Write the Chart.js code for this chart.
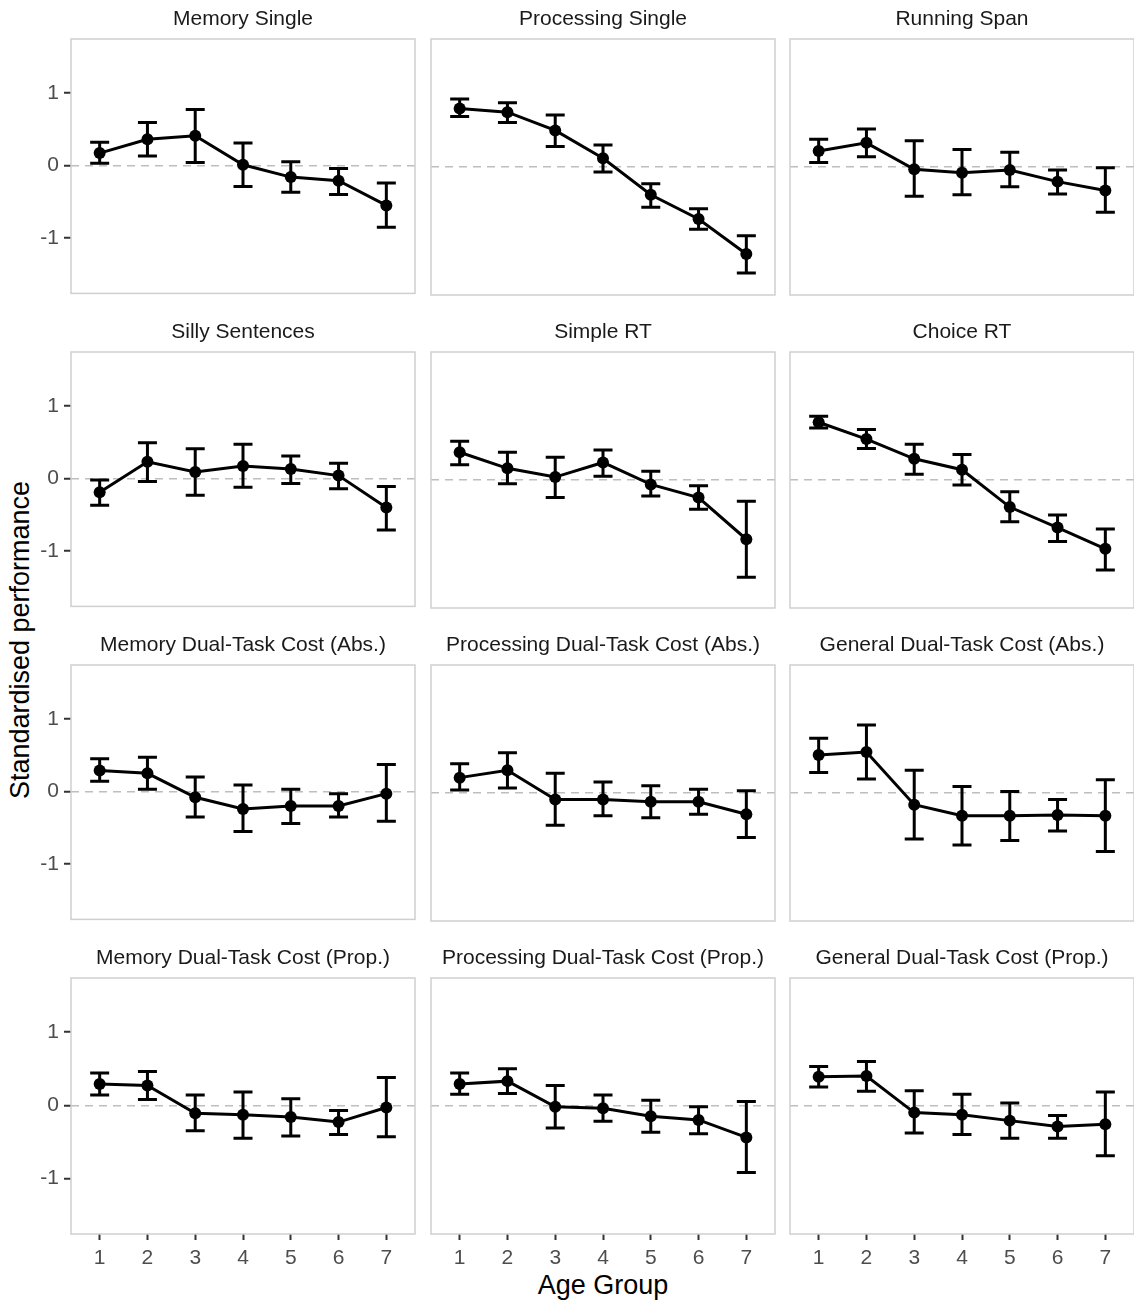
<!DOCTYPE html>
<html><head><meta charset="utf-8">
<script src="https://cdn.jsdelivr.net/npm/chart.js@4/dist/chart.umd.min.js"></script>
<style>
html,body{margin:0;padding:0;background:#fff;overflow:hidden;width:1134px;height:1310px;position:relative;}
canvas.c{position:absolute;}
#ylab{position:absolute;left:20px;top:640px;transform:translate(-50%,-50%) rotate(-90deg);font:27px "Liberation Sans",Arial,sans-serif;white-space:nowrap;color:#000;}
#xlab{position:absolute;left:603px;top:1285px;transform:translate(-50%,-50%);font:27px "Liberation Sans",Arial,sans-serif;white-space:nowrap;color:#000;}
</style></head><body>
<div id="ylab">Standardised performance</div>
<div id="xlab">Age Group</div>
<script>
// ---------- data ----------
const ageGroups = [1, 2, 3, 4, 5, 6, 7];
const yTickValues = [-1, 0, 1];
const panelTitles = [
  "Memory Single", "Processing Single", "Running Span",
  "Silly Sentences", "Simple RT", "Choice RT",
  "Memory Dual-Task Cost (Abs.)", "Processing Dual-Task Cost (Abs.)", "General Dual-Task Cost (Abs.)",
  "Memory Dual-Task Cost (Prop.)", "Processing Dual-Task Cost (Prop.)", "General Dual-Task Cost (Prop.)"
];

const memorySingle      = [0.17, 0.36, 0.41, 0.01, -0.16, -0.21, -0.55];
const memorySingleLower = [0.03, 0.13, 0.04, -0.29, -0.37, -0.40, -0.85];
const memorySingleUpper = [0.32, 0.59, 0.77, 0.31, 0.05, -0.04, -0.24];

const processingSingle      = [0.79, 0.74, 0.49, 0.11, -0.39, -0.72, -1.20];
const processingSingleLower = [0.68, 0.60, 0.27, -0.08, -0.56, -0.86, -1.46];
const processingSingleUpper = [0.92, 0.87, 0.70, 0.29, -0.24, -0.58, -0.95];

const runningSpan      = [0.21, 0.32, -0.04, -0.09, -0.05, -0.21, -0.33];
const runningSpanLower = [0.05, 0.13, -0.41, -0.39, -0.28, -0.38, -0.63];
const runningSpanUpper = [0.37, 0.51, 0.35, 0.23, 0.19, -0.05, -0.02];

const sillySentences      = [-0.19, 0.23, 0.09, 0.17, 0.13, 0.04, -0.40];
const sillySentencesLower = [-0.37, -0.04, -0.23, -0.12, -0.07, -0.14, -0.71];
const sillySentencesUpper = [-0.02, 0.49, 0.41, 0.47, 0.31, 0.21, -0.11];

const simpleRT      = [0.37, 0.15, 0.03, 0.23, -0.07, -0.25, -0.82];
const simpleRTLower = [0.20, -0.06, -0.25, 0.04, -0.23, -0.41, -1.34];
const simpleRTUpper = [0.52, 0.37, 0.30, 0.40, 0.11, -0.09, -0.30];

const choiceRT      = [0.78, 0.55, 0.28, 0.13, -0.38, -0.66, -0.95];
const choiceRTLower = [0.70, 0.42, 0.07, -0.08, -0.58, -0.85, -1.24];
const choiceRTUpper = [0.86, 0.68, 0.48, 0.34, -0.17, -0.49, -0.68];

const memoryDtcAbs      = [0.29, 0.25, -0.08, -0.24, -0.20, -0.20, -0.03];
const memoryDtcAbsLower = [0.14, 0.03, -0.35, -0.55, -0.44, -0.35, -0.41];
const memoryDtcAbsUpper = [0.45, 0.47, 0.20, 0.09, 0.03, -0.03, 0.37];

const processingDtcAbs      = [0.20, 0.30, -0.10, -0.10, -0.13, -0.13, -0.30];
const processingDtcAbsLower = [0.03, 0.06, -0.45, -0.32, -0.35, -0.30, -0.62];
const processingDtcAbsUpper = [0.39, 0.54, 0.26, 0.14, 0.09, 0.04, 0.02];

const generalDtcAbs      = [0.51, 0.55, -0.17, -0.32, -0.32, -0.31, -0.32];
const generalDtcAbsLower = [0.27, 0.18, -0.64, -0.72, -0.66, -0.53, -0.81];
const generalDtcAbsUpper = [0.74, 0.92, 0.30, 0.08, 0.01, -0.10, 0.17];

const memoryDtcProp      = [0.29, 0.27, -0.11, -0.13, -0.16, -0.23, -0.03];
const memoryDtcPropLower = [0.14, 0.08, -0.35, -0.45, -0.42, -0.40, -0.43];
const memoryDtcPropUpper = [0.44, 0.46, 0.14, 0.18, 0.09, -0.07, 0.38];

const processingDtcProp      = [0.29, 0.33, -0.02, -0.04, -0.15, -0.20, -0.44];
const processingDtcPropLower = [0.15, 0.16, -0.31, -0.22, -0.37, -0.39, -0.92];
const processingDtcPropUpper = [0.44, 0.50, 0.27, 0.14, 0.07, -0.02, 0.05];

const generalDtcProp      = [0.39, 0.40, -0.10, -0.13, -0.21, -0.29, -0.26];
const generalDtcPropLower = [0.25, 0.19, -0.38, -0.40, -0.45, -0.45, -0.69];
const generalDtcPropUpper = [0.53, 0.60, 0.20, 0.15, 0.03, -0.14, 0.18];

const panelMeans = [memorySingle, processingSingle, runningSpan, sillySentences, simpleRT, choiceRT,
  memoryDtcAbs, processingDtcAbs, generalDtcAbs, memoryDtcProp, processingDtcProp, generalDtcProp];
const panelLowers = [memorySingleLower, processingSingleLower, runningSpanLower, sillySentencesLower, simpleRTLower, choiceRTLower,
  memoryDtcAbsLower, processingDtcAbsLower, generalDtcAbsLower, memoryDtcPropLower, processingDtcPropLower, generalDtcPropLower];
const panelUppers = [memorySingleUpper, processingSingleUpper, runningSpanUpper, sillySentencesUpper, simpleRTUpper, choiceRTUpper,
  memoryDtcAbsUpper, processingDtcAbsUpper, generalDtcAbsUpper, memoryDtcPropUpper, processingDtcPropUpper, generalDtcPropUpper];

// ---------- layout ----------
const PANEL_LEFT = [71, 431, 790];
const PANEL_TOP = [39, 352, 665, 978];
const PW = 344, PH = 256;
const TITLE_H = 32;
const FONT = '"Liberation Sans", Arial, sans-serif';

const errorBarPlugin = {
  id: 'errorBars',
  afterDatasetsDraw(chart, args, opts) {
    const ctx = chart.ctx, x = chart.scales.x, y = chart.scales.y;
    ctx.save();
    ctx.strokeStyle = '#000';
    ctx.lineWidth = 3;
    ageGroups.forEach((g, i) => {
      const px = x.getPixelForValue(g);
      const lo = y.getPixelForValue(opts.lower[i]);
      const hi = y.getPixelForValue(opts.upper[i]);
      ctx.beginPath();
      ctx.moveTo(px, lo); ctx.lineTo(px, hi);
      ctx.moveTo(px - 9.5, lo); ctx.lineTo(px + 9.5, lo);
      ctx.moveTo(px - 9.5, hi); ctx.lineTo(px + 9.5, hi);
      ctx.stroke();
    });
    ctx.restore();
  }
};
const panelBorderPlugin = {
  id: 'panelBorder',
  afterDraw(chart) {
    const a = chart.chartArea, ctx = chart.ctx;
    ctx.save();
    ctx.strokeStyle = '#CFCFCF';
    ctx.lineWidth = 1.5;
    ctx.strokeRect(a.left, a.top, a.right - a.left, a.bottom - a.top);
    ctx.restore();
  }
};

panelTitles.forEach((title, k) => {
  const r = Math.floor(k / 3), c = k % 3;
  const leftPad = c === 0 ? 62 : 2;
  const bottomH = r === 3 ? 48 : 16;
  const cv = document.createElement('canvas');
  cv.className = 'c';
  const w = leftPad + PW + 2, h = TITLE_H + PH + bottomH;
  cv.style.left = (PANEL_LEFT[c] - leftPad) + 'px';
  cv.style.top = (PANEL_TOP[r] - TITLE_H) + 'px';
  cv.style.width = w + 'px';
  cv.style.height = h + 'px';
  cv.width = w; cv.height = h;
  document.body.appendChild(cv);

  new Chart(cv, {
    type: 'line',
    data: {
      datasets: [{
        data: ageGroups.map((g, i) => ({ x: g, y: panelMeans[k][i] })),
        borderColor: '#000', backgroundColor: '#000',
        borderWidth: 3, pointRadius: 6, pointBorderWidth: 0,
        pointBackgroundColor: '#000', tension: 0
      }]
    },
    options: {
      responsive: false, animation: false, devicePixelRatio: 1,
      layout: { autoPadding: false, padding: { left: 0, right: 2, top: 0, bottom: 0 } },
      plugins: {
        legend: { display: false }, tooltip: { enabled: false },
        title: {
          display: true, text: title, fullSize: false, color: '#1A1A1A',
          font: { family: FONT, size: 21, weight: 'normal', lineHeight: '25px' },
          padding: { top: 0, bottom: 7 }
        },
        errorBars: { lower: panelLowers[k], upper: panelUppers[k] }
      },
      scales: {
        x: {
          type: 'linear', min: 0.4, max: 7.6,
          afterBuildTicks: s => { s.ticks = ageGroups.map(v => ({ value: v })); },
          afterFit: s => { s.height = bottomH; },
          grid: { drawOnChartArea: false, drawTicks: r === 3, tickLength: 6, tickWidth: 2, tickColor: '#333333', color: 'transparent' },
          border: { display: false },
          ticks: { display: r === 3, color: '#4D4D4D', padding: 6, font: { family: FONT, size: 21 }, maxRotation: 0 }
        },
        y: {
          type: 'linear', min: -1.76, max: 1.74,
          afterBuildTicks: s => { s.ticks = yTickValues.map(v => ({ value: v })); },
          afterFit: s => { s.width = leftPad; },
          grid: {
            drawTicks: c === 0, tickLength: 7, tickWidth: 2, tickColor: '#333333',
            color: ctx => (ctx.tick && ctx.tick.value === 0) ? '#BEBEBE' : 'transparent',
            lineWidth: 1.5
          },
          border: { display: false, dash: [8, 6] },
          ticks: { display: c === 0, color: '#4D4D4D', padding: 5, font: { family: FONT, size: 21 } }
        }
      }
    },
    plugins: [errorBarPlugin, panelBorderPlugin]
  });
});
</script>
</body></html>
